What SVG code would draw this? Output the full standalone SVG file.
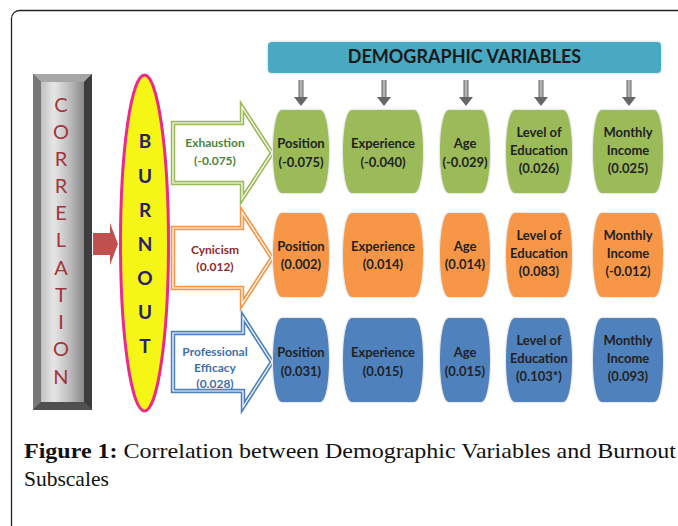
<svg xmlns="http://www.w3.org/2000/svg" width="678" height="526" viewBox="0 0 678 526">
<defs>
<linearGradient id="gPanel" x1="0" y1="0" x2="1" y2="0">
<stop offset="0" stop-color="#c2c2c2"/><stop offset="0.3" stop-color="#e6e6e6"/><stop offset="0.7" stop-color="#b8b8b8"/><stop offset="1" stop-color="#888"/>
</linearGradient>
<linearGradient id="gShaft" x1="0" y1="0" x2="1" y2="0">
<stop offset="0" stop-color="#666"/><stop offset="0.5" stop-color="#c4c4c4"/><stop offset="1" stop-color="#666"/>
</linearGradient>
<style>
.frame{fill:none;stroke:#222;stroke-width:1.3}
.corr{font-family:Lato,'Open Sans','Liberation Sans',sans-serif;font-size:20px;fill:#a3353a;text-anchor:middle}
.burn{font-family:Lato,'Open Sans','Liberation Sans',sans-serif;font-size:19px;font-weight:bold;fill:#2a2070;text-anchor:middle}
.blk{fill:#fff;stroke-width:4.5;stroke-linejoin:miter}
.blkIn{fill:none;stroke:#fff;stroke-width:1.2}
.lbl{font-family:Lato,'Open Sans','Liberation Sans',sans-serif;font-size:12px;font-weight:bold;text-anchor:middle}
.node{stroke:#e9e9e9;stroke-width:2.5;paint-order:stroke}
.ntx{font-family:Lato,'Open Sans','Liberation Sans',sans-serif;font-size:13px;font-weight:bold;fill:#222;text-anchor:middle}
.g{fill:#9bbb59}.o{fill:#f79646}.b{fill:#4f81bd}
.dn rect{fill:url(#gShaft)}.dn path{fill:#666}
.cap{font-family:'Liberation Serif','Times New Roman',serif;font-size:21.5px;fill:#111}
</style>
</defs>
<rect class="frame" x="11.5" y="10.5" width="720" height="580" rx="8"/>

<g id="correlation">
<rect x="33" y="74" width="59" height="336" fill="#555"/>
<polygon points="33,74 92,74 84,82 41,82" fill="#a6a6a6"/>
<polygon points="33,74 41,82 41,402 33,410" fill="#777"/>
<polygon points="92,74 92,410 84,402 84,82" fill="#3c3c3c"/>
<polygon points="33,410 92,410 84,402 41,402" fill="#505050"/>
<rect x="41" y="82" width="43" height="320" fill="url(#gPanel)"/>
<text class="corr" x="61" y="112">C</text><text class="corr" x="61" y="139">O</text><text class="corr" x="61" y="166">R</text><text class="corr" x="61" y="193">R</text><text class="corr" x="61" y="220">E</text><text class="corr" x="61" y="247">L</text><text class="corr" x="61" y="275">A</text><text class="corr" x="61" y="302">T</text><text class="corr" x="61" y="329">I</text><text class="corr" x="61" y="356">O</text><text class="corr" x="61" y="384">N</text>
</g>

<g id="burnout">
<ellipse cx="144.5" cy="243" rx="24" ry="168" fill="#f5f516" stroke="#ec2a8c" stroke-width="3"/>
<text class="burn" x="145" y="148">B</text><text class="burn" x="145" y="183">U</text><text class="burn" x="145" y="217">R</text><text class="burn" x="145" y="251">N</text><text class="burn" x="145" y="285">O</text><text class="burn" x="145" y="319">U</text><text class="burn" x="145" y="353">T</text>
</g>

<g id="banner">
<rect x="268" y="42" width="393" height="31" rx="4" fill="#4aa9c2" stroke="#e4eef1" stroke-width="3" paint-order="stroke"/>
<text x="464.5" y="63" font-family="Lato,'Open Sans','Liberation Sans',sans-serif" font-size="18" font-weight="bold" fill="#1a1a1a" text-anchor="middle">DEMOGRAPHIC VARIABLES</text>
</g>

<g id="connectors">
<path d="M93,233 H110 V223 L118,244 L110,265 V255 H93 Z" fill="#c0504d"/>
<g id="arrow-exhaustion">
<path class="blk" stroke="#9bbb59" d="M173,123 H242 V107 L272,153 L242,199 V183 H173 Z"/>
<path class="blkIn" d="M173,123 H242 V107 L272,153 L242,199 V183 H173 Z"/>
</g>
<g id="arrow-cynicism">
<path class="blk" stroke="#f79646" d="M173,228 H242 V212 L272,258 L242,304 V288 H173 Z"/>
<path class="blkIn" d="M173,228 H242 V212 L272,258 L242,304 V288 H173 Z"/>
</g>
<g id="arrow-efficacy">
<path class="blk" stroke="#4f81bd" d="M173,333 H243 V317 L272,362 L243,407 V391 H173 Z"/>
<path class="blkIn" d="M173,333 H243 V317 L272,362 L243,407 V391 H173 Z"/>
</g>
<g class="dn"><rect x="298.5" y="80" width="5" height="18"/><path d="M294,97 H308 L301,106 Z"/></g>
<g class="dn"><rect x="381.5" y="80" width="5" height="18"/><path d="M377,97 H391 L384,106 Z"/></g>
<g class="dn"><rect x="463.5" y="80" width="5" height="18"/><path d="M459,97 H473 L466,106 Z"/></g>
<g class="dn"><rect x="538.5" y="80" width="5" height="18"/><path d="M534,97 H548 L541,106 Z"/></g>
<g class="dn"><rect x="626.5" y="80" width="5" height="18"/><path d="M622,97 H636 L629,106 Z"/></g>
</g>

<g id="label-exhaustion"><text class="lbl" fill="#4b843c" x="215" y="147">Exhaustion</text><text class="lbl" fill="#4b843c" x="215" y="165">(-0.075)</text></g>
<g id="label-cynicism"><text class="lbl" fill="#8c2a2a" x="215" y="254">Cynicism</text><text class="lbl" fill="#8c2a2a" x="215" y="271">(0.012)</text></g>
<g id="label-efficacy"><text class="lbl" fill="#3d70ae" x="215" y="356">Professional</text><text class="lbl" fill="#3d70ae" x="215" y="372">Efficacy</text><text class="lbl" fill="#3d70ae" x="215" y="388">(0.028)</text></g>

<!-- green row -->
<g id="g-position"><path class="node g" d="M282,110 H320 C332,110 332,193 320,193 H282 C270,193 270,110 282,110 Z"/><text class="ntx" x="301" y="147.5">Position</text><text class="ntx" x="301" y="166.5">(-0.075)</text></g>
<g id="g-experience"><path class="node g" d="M352,110 H414 C426,110 426,193 414,193 H352 C340,193 340,110 352,110 Z"/><text class="ntx" x="383" y="147.5">Experience</text><text class="ntx" x="383" y="166.5">(-0.040)</text></g>
<g id="g-age"><path class="node g" d="M449,110 H481 C493,110 493,193 481,193 H449 C437,193 437,110 449,110 Z"/><text class="ntx" x="465" y="147.5">Age</text><text class="ntx" x="465" y="166.5">(-0.029)</text></g>
<g id="g-education"><path class="node g" d="M515,110 H563 C575,110 575,193 563,193 H515 C503,193 503,110 515,110 Z"/><text class="ntx" x="539" y="137">Level of</text><text class="ntx" x="539" y="155">Education</text><text class="ntx" x="539" y="173">(0.026)</text></g>
<g id="g-income"><path class="node g" d="M602,110 H654 C666,110 666,193 654,193 H602 C590,193 590,110 602,110 Z"/><text class="ntx" x="628" y="137">Monthly</text><text class="ntx" x="628" y="155">Income</text><text class="ntx" x="628" y="173">(0.025)</text></g>

<!-- orange row -->
<g id="o-position"><path class="node o" d="M282,213 H320 C332,213 332,297 320,297 H282 C270,297 270,213 282,213 Z"/><text class="ntx" x="301" y="250.5">Position</text><text class="ntx" x="301" y="268.5">(0.002)</text></g>
<g id="o-experience"><path class="node o" d="M352,213 H414 C426,213 426,297 414,297 H352 C340,297 340,213 352,213 Z"/><text class="ntx" x="383" y="250.5">Experience</text><text class="ntx" x="383" y="268.5">(0.014)</text></g>
<g id="o-age"><path class="node o" d="M449,213 H481 C493,213 493,297 481,297 H449 C437,297 437,213 449,213 Z"/><text class="ntx" x="465" y="250.5">Age</text><text class="ntx" x="465" y="268.5">(0.014)</text></g>
<g id="o-education"><path class="node o" d="M515,213 H563 C575,213 575,297 563,297 H515 C503,297 503,213 515,213 Z"/><text class="ntx" x="539" y="239.5">Level of</text><text class="ntx" x="539" y="257.5">Education</text><text class="ntx" x="539" y="276">(0.083)</text></g>
<g id="o-income"><path class="node o" d="M602,213 H654 C666,213 666,297 654,297 H602 C590,297 590,213 602,213 Z"/><text class="ntx" x="628" y="239.5">Monthly</text><text class="ntx" x="628" y="257.5">Income</text><text class="ntx" x="628" y="276">(-0.012)</text></g>

<!-- blue row -->
<g id="b-position"><path class="node b" d="M282,318 H320 C332,318 332,402 320,402 H282 C270,402 270,318 282,318 Z"/><text class="ntx" x="301" y="356.5">Position</text><text class="ntx" x="301" y="375.5">(0.031)</text></g>
<g id="b-experience"><path class="node b" d="M352,318 H414 C426,318 426,402 414,402 H352 C340,402 340,318 352,318 Z"/><text class="ntx" x="383" y="356.5">Experience</text><text class="ntx" x="383" y="375.5">(0.015)</text></g>
<g id="b-age"><path class="node b" d="M449,318 H481 C493,318 493,402 481,402 H449 C437,402 437,318 449,318 Z"/><text class="ntx" x="465" y="356.5">Age</text><text class="ntx" x="465" y="375.5">(0.015)</text></g>
<g id="b-education"><path class="node b" d="M515,318 H563 C575,318 575,402 563,402 H515 C503,402 503,318 515,318 Z"/><text class="ntx" x="539" y="344.5">Level of</text><text class="ntx" x="539" y="362.5">Education</text><text class="ntx" x="539" y="381">(0.103*)</text></g>
<g id="b-income"><path class="node b" d="M602,318 H654 C666,318 666,402 654,402 H602 C590,402 590,318 602,318 Z"/><text class="ntx" x="628" y="344.5">Monthly</text><text class="ntx" x="628" y="362.5">Income</text><text class="ntx" x="628" y="381">(0.093)</text></g>

<g id="caption">
<text class="cap" x="24" y="458" textLength="652" lengthAdjust="spacingAndGlyphs"><tspan font-weight="bold">Figure 1:</tspan> Correlation between Demographic Variables and Burnout</text>
<text class="cap" x="24" y="486">Subscales</text>
</g>
</svg>
